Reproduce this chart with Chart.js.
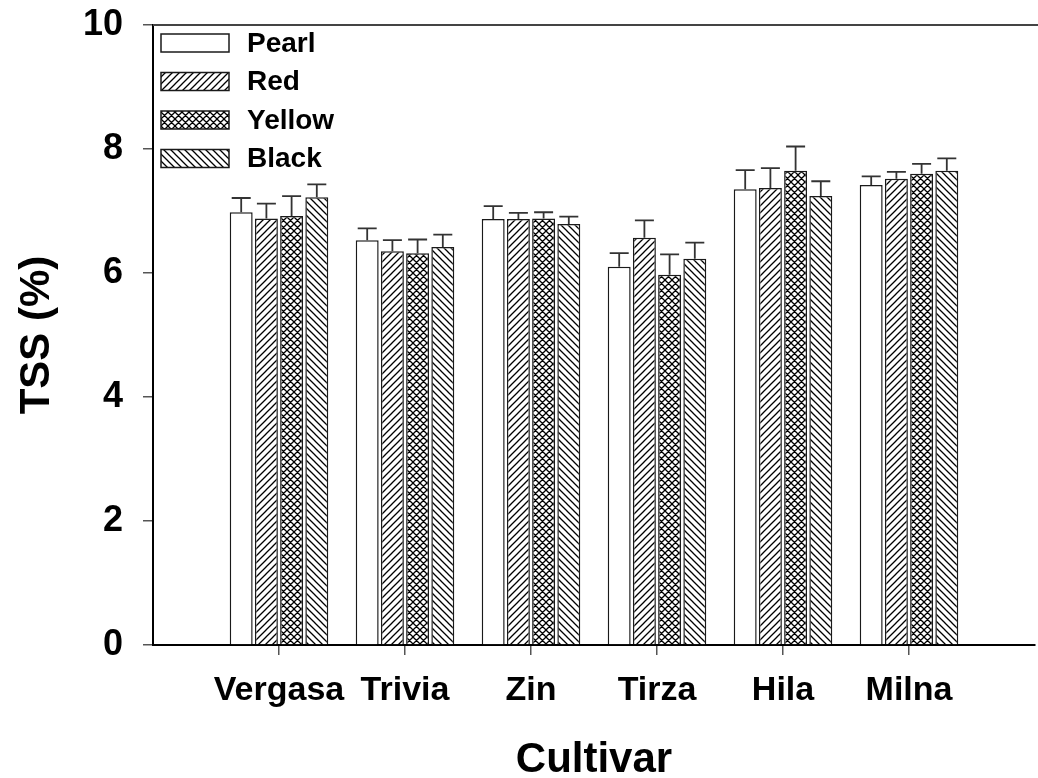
<!DOCTYPE html>
<html>
<head>
<meta charset="utf-8">
<script src="https://cdn.jsdelivr.net/npm/chart.js@4.4.1/dist/chart.umd.min.js"></script>
<style>
  html, body { margin: 0; padding: 0; background: #ffffff; }
  canvas { display: block; }
</style>
</head>
<body>
<canvas id="c" width="1038" height="778"></canvas>
<script>
// ---- data ----
const categories = ['Vergasa', 'Trivia', 'Zin', 'Tirza', 'Hila', 'Milna'];
const seriesNames = ['Pearl', 'Red', 'Yellow', 'Black'];
const pearl     = [6.98, 6.53, 6.87, 6.10, 7.35, 7.42];
const pearlErr  = [0.23, 0.19, 0.21, 0.22, 0.31, 0.14];
const red       = [6.88, 6.35, 6.87, 6.57, 7.37, 7.52];
const redErr    = [0.24, 0.18, 0.10, 0.28, 0.32, 0.11];
const yellow    = [6.92, 6.32, 6.88, 5.97, 7.65, 7.60];
const yellowErr = [0.32, 0.22, 0.10, 0.33, 0.39, 0.16];
const black     = [7.22, 6.42, 6.79, 6.23, 7.24, 7.65];
const blackErr  = [0.21, 0.20, 0.12, 0.26, 0.24, 0.20];
const yTicks    = [0, 2, 4, 6, 8, 10];
const xTitle = 'Cultivar';
const yTitle = 'TSS (%)';

// padded category axis: one empty slot on each side
const labels = [''].concat(categories, ['']);
const pad = arr => [null].concat(arr, [null]);

// ---- fill patterns ----
function makePattern(kind) {
  const s = 7;
  const c = document.createElement('canvas');
  c.width = s; c.height = s;
  const g = c.getContext('2d');
  g.fillStyle = '#ffffff';
  g.fillRect(0, 0, s, s);
  g.strokeStyle = '#000000';
  g.lineWidth = 1.3;
  g.beginPath();
  if (kind === 'fwd' || kind === 'cross') {
    g.moveTo(-1, s + 1); g.lineTo(s + 1, -1);
    g.moveTo(-1, 1); g.lineTo(1, -1);
    g.moveTo(s - 1, s + 1); g.lineTo(s + 1, s - 1);
  }
  if (kind === 'back' || kind === 'cross') {
    g.moveTo(-1, -1); g.lineTo(s + 1, s + 1);
    g.moveTo(-1, s - 1); g.lineTo(1, s + 1);
    g.moveTo(s - 1, -1); g.lineTo(s + 1, 1);
  }
  g.stroke();
  return g.createPattern(c, 'repeat');
}
const ctx0 = document.getElementById('c').getContext('2d');
const fills = ['#ffffff', makePattern('fwd'), makePattern('cross'), makePattern('back')];
const values = [pearl, red, yellow, black];
const errors = [pearlErr, redErr, yellowErr, blackErr];

const FONT = "'Liberation Sans', Arial, Helvetica, sans-serif";

const datasets = seriesNames.map((name, i) => ({
  label: name,
  data: pad(values[i]),
  errors: pad(errors[i]),
  backgroundColor: fills[i],
  borderColor: '#1a1a1a',
  borderWidth: 1.5,
  categoryPercentage: 0.8,
  barPercentage: 0.91
}));

// error bars (upper only)
const errorBarPlugin = {
  id: 'errorBars',
  afterDatasetsDraw(chart) {
    const ctx = chart.ctx;
    const y = chart.scales.y;
    ctx.save();
    ctx.strokeStyle = '#333333';
    ctx.lineWidth = 1.8;
    chart.data.datasets.forEach((ds, di) => {
      const meta = chart.getDatasetMeta(di);
      meta.data.forEach((bar, idx) => {
        const v = ds.data[idx], e = ds.errors[idx];
        if (v == null || e == null) return;
        const yTop = y.getPixelForValue(v + e);
        const yBar = y.getPixelForValue(v);
        ctx.beginPath();
        ctx.moveTo(bar.x, yBar);
        ctx.lineTo(bar.x, yTop);
        ctx.moveTo(bar.x - 9.5, yTop);
        ctx.lineTo(bar.x + 9.5, yTop);
        ctx.stroke();
      });
    });
    ctx.restore();
  }
};

// top frame line
const frameTopPlugin = {
  id: 'frameTop',
  afterDraw(chart) {
    const {ctx, chartArea} = chart;
    ctx.save();
    ctx.strokeStyle = '#444444';
    ctx.lineWidth = 2;
    ctx.beginPath();
    ctx.moveTo(chartArea.left, chartArea.top);
    ctx.lineTo(chart.width, chartArea.top);
    ctx.stroke();
    ctx.restore();
  }
};

// legend inside the plot, top-left
const insideLegendPlugin = {
  id: 'insideLegend',
  afterDraw(chart) {
    const {ctx, chartArea} = chart;
    ctx.save();
    chart.data.datasets.forEach((ds, i) => {
      const bx = chartArea.left + 8;
      const cy = chartArea.top + 18 + i * 38.5;
      ctx.fillStyle = ds.backgroundColor;
      ctx.fillRect(bx, cy - 9, 68, 18);
      ctx.strokeStyle = '#1a1a1a';
      ctx.lineWidth = 1.5;
      ctx.strokeRect(bx, cy - 9, 68, 18);
      ctx.fillStyle = '#000000';
      ctx.font = 'bold 28px ' + FONT;
      ctx.textAlign = 'left';
      ctx.textBaseline = 'middle';
      ctx.fillText(ds.label, bx + 86, cy + 1);
    });
    ctx.restore();
  }
};

const hiddenEnds = c => (c.index === 0 || c.index === labels.length - 1) ? 'rgba(0,0,0,0)' : '#555555';

new Chart(ctx0, {
  type: 'bar',
  data: { labels: labels, datasets: datasets },
  options: {
    responsive: false,
    animation: false,
    devicePixelRatio: 1,
    layout: { padding: { left: 0, right: 3, top: 25, bottom: 0 } },
    plugins: {
      legend: { display: false },
      tooltip: { enabled: false }
    },
    scales: {
      x: {
        type: 'category',
        offset: false,
        grid: {
          offset: false,
          drawOnChartArea: false,
          drawTicks: true,
          tickLength: 10,
          color: hiddenEnds,
          lineWidth: 1.5
        },
        border: { display: true, color: '#000000', width: 2 },
        ticks: {
          autoSkip: false,
          maxRotation: 0,
          minRotation: 0,
          padding: 15,
          color: '#000000',
          font: { family: FONT, size: 34, weight: 'bold' }
        },
        title: {
          display: true,
          text: xTitle,
          color: '#000000',
          padding: { top: 0, bottom: -3 },
          font: { family: FONT, size: 42, weight: 'bold', lineHeight: 1 }
        },
        afterFit(scale) {
          scale.height = 133;
          scale.paddingLeft = 0; scale.paddingRight = 0;
          scale.paddingTop = 0; scale.paddingBottom = 0;
        }
      },
      y: {
        min: 0,
        max: 10,
        afterBuildTicks(scale) { scale.ticks = yTicks.map(v => ({ value: v })); },
        grid: {
          drawOnChartArea: false,
          drawTicks: true,
          tickLength: 10,
          color: '#555555',
          lineWidth: 1.5
        },
        border: { display: true, color: '#000000', width: 2 },
        ticks: {
          padding: 20,
          color: '#000000',
          font: { family: FONT, size: 36, weight: 'bold' }
        },
        title: {
          display: true,
          text: yTitle,
          color: '#000000',
          padding: { top: 16, bottom: 0 },
          font: { family: FONT, size: 42, weight: 'bold', lineHeight: 1 }
        },
        afterFit(scale) {
          scale.width = 153;
          scale.paddingLeft = 0; scale.paddingRight = 0;
          scale.paddingTop = 0; scale.paddingBottom = 0;
        }
      }
    }
  },
  plugins: [errorBarPlugin, frameTopPlugin, insideLegendPlugin]
});
</script>
</body>
</html>
